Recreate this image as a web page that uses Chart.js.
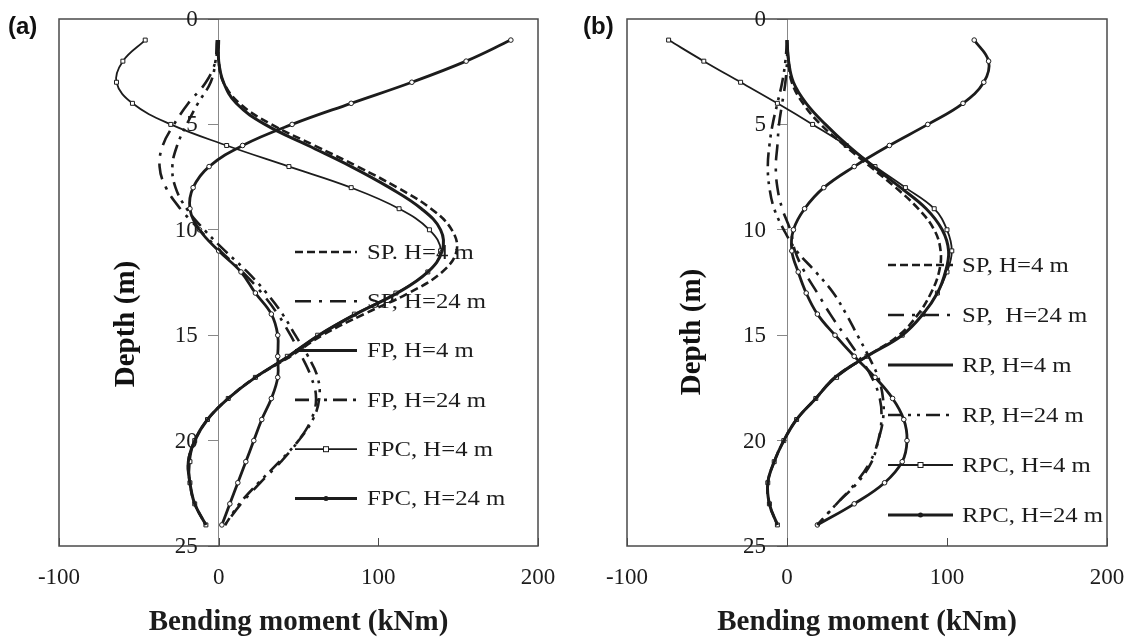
<!DOCTYPE html>
<html>
<head>
<meta charset="utf-8">
<script src="https://cdn.jsdelivr.net/npm/chart.js@4.4.1/dist/chart.umd.min.js"></script>
<style>
  html, body { margin:0; padding:0; background:#fff; }
  #wrap { position:relative; width:1126px; height:640px; overflow:hidden; }
  .panel { position:absolute; top:0; width:563px; height:640px; }
</style>
</head>
<body>
<div id="wrap">
  <div class="panel" style="left:0"><canvas id="chartA" width="563" height="640"></canvas></div>
  <div class="panel" style="left:563px"><canvas id="chartB" width="563" height="640"></canvas></div>
</div>
<script>
// depth of each reading (m) and axis ticks
const depth = [1,2,3,4,5,6,7,8,9,10,11,12,13,14,15,16,17,18,19,20,21,22,23,24];
const momentTicks = [-100, 0, 100, 200];
const depthTicks = [0, 5, 10, 15, 20, 25];

// (a) bending moment, kNm
const namesA = ['SP. H=4 m', 'SP, H=24 m', 'FP, H=4 m', 'FP, H=24 m', 'FPC, H=4 m', 'FPC, H=24 m'];
const spH4A   = [0, 0, 3, 13, 33, 60, 87, 112, 133, 146, 149, 140, 119, 91, 65, 45, 23, 6, -7, -15, -19, -18, -15, -8];
const spH24A  = [-1, -2, -8, -19, -28, -35, -37, -33, -24, -12, 1, 15, 27, 37, 45, 52, 58, 61, 58, 50, 39, 26, 14, 4];
const fpH4A   = [0, 0, 3, 11, 29, 56, 83, 107, 127, 139, 140, 131, 112, 86, 63, 44, 23, 6, -7, -15, -19, -18, -15, -8];
const fpH24A  = [-1, -2, -5, -13, -20, -26, -29, -27, -20, -9, 4, 18, 30, 40, 48, 56, 62, 63, 59, 50, 38, 25, 13, 4];
const fpcH4A  = [-46, -60, -64, -54, -30, 5, 44, 83, 113, 132, 139, 131, 111, 85, 62, 43, 23, 6, -7, -15, -18, -18, -15, -8];
const fpcH24A = [183, 155, 121, 83, 46, 15, -6, -16, -18, -12, 0, 14, 23, 33, 37, 37, 37, 33, 27, 22, 17, 12, 7, 2];

// (b) bending moment, kNm
const namesB = ['SP, H=4 m', 'SP,  H=24 m', 'RP, H=4 m', 'RP, H=24 m', 'RPC, H=4 m', 'RPC, H=24 m'];
const spH4B   = [0, 1, 3, 10, 21, 36, 52, 68, 82, 92, 96, 95, 90, 82, 70, 50, 30, 18, 6, -2, -8, -12, -11, -6];
const spH24B  = [0, 0, -1, -3, -5, -6, -7, -6, -3, 2, 5, 11, 19, 27, 36, 45, 53, 58, 59, 57, 52, 43, 31, 19];
const rpH4B   = [0, 1, 4, 12, 24, 38, 54, 71, 87, 97, 101, 99, 94, 85, 72, 50, 30, 18, 6, -2, -8, -12, -11, -6];
const rpH24B  = [0, -1, -3, -6, -9, -11, -12, -11, -8, -2, 6, 18, 29, 37, 44, 51, 57, 60, 60, 57, 53, 44, 31, 19];
const rpcH4B  = [-74, -52, -29, -6, 16, 37, 55, 74, 92, 100, 103, 100, 94, 85, 72, 50, 31, 18, 6, -2, -8, -12, -11, -6];
const rpcH24B = [117, 126, 123, 110, 88, 64, 42, 23, 11, 4, 3, 7, 12, 19, 30, 42, 55, 66, 73, 75, 72, 61, 42, 19];

const INK = '#1c1c1c';
const SERIF = '"Liberation Serif", "Times New Roman", serif';

// one style per series slot, same order in both panels
const lineStyles = [
  { borderDash:[8,4], borderWidth:2.6, pointRadius:0 },
  { borderDash:[16,8,3,8], borderWidth:2.6, pointRadius:0 },
  { borderDash:[], borderWidth:3, pointRadius:0 },
  { borderDash:[14,6,3,6,3,6], borderWidth:2.6, pointRadius:0 },
  { borderDash:[], borderWidth:1.8, pointRadius:2.8, pointStyle:'rect' },
  { borderDash:[], borderWidth:2.8, pointRadius:2.3, pointStyle:'circle' }
];

const zeroPad = s => { s.paddingTop = 0; s.paddingBottom = 0; s.paddingLeft = 0; s.paddingRight = 0; };

const paperPlugin = {
  id: 'paper',
  beforeDatasetsDraw(chart, args, o) {
    const { ctx, chartArea: a, scales } = chart;
    ctx.save();
    ctx.strokeStyle = '#4a4a4a';
    ctx.lineWidth = 1.5;
    ctx.strokeRect(a.left, a.top, a.right - a.left, a.bottom - a.top);
    // short inward ticks on the moment axis
    ctx.lineWidth = 1;
    momentTicks.forEach(v => {
      const px = Math.round(scales.x.getPixelForValue(v)) + 0.5;
      ctx.beginPath(); ctx.moveTo(px, a.bottom); ctx.lineTo(px, a.bottom - 8); ctx.stroke();
    });
    ctx.restore();
  },
  afterDraw(chart, args, o) {
    const { ctx, chartArea: a, scales } = chart;
    ctx.save();
    // depth tick labels, left of the zero-moment axis
    const x0px = scales.x.getPixelForValue(0);
    ctx.fillStyle = INK;
    ctx.font = '23px ' + SERIF;
    ctx.textAlign = 'right'; ctx.textBaseline = 'middle';
    depthTicks.forEach(v => ctx.fillText(String(v), x0px - 21, scales.y.getPixelForValue(v) + 1));

    // panel tag
    ctx.fillStyle = '#111';
    ctx.font = 'bold 24px "Liberation Sans", Arial, sans-serif';
    ctx.textAlign = 'left';
    ctx.fillText(o.tag, o.tagX, 27);

    // depth title, sits inside the frame
    ctx.save();
    ctx.translate(a.left + o.titleDx, o.titleY);
    ctx.rotate(-Math.PI / 2);
    ctx.font = 'bold 29px ' + SERIF;
    ctx.textAlign = 'center';
    ctx.fillText('Depth (m)', 0, 0);
    ctx.restore();

    // legend
    chart.data.datasets.forEach((ds, i) => {
      const y = a.top + o.legendY + i * o.legendGap;
      const x0 = a.left + o.legendX, x1 = x0 + o.lineLen;
      ctx.strokeStyle = INK;
      ctx.lineWidth = ds.borderWidth;
      ctx.setLineDash(ds.borderDash || []);
      ctx.beginPath(); ctx.moveTo(x0, y); ctx.lineTo(x1, y); ctx.stroke();
      ctx.setLineDash([]);
      const mx = (x0 + x1) / 2;
      if (ds.pointStyle === 'rect') {
        ctx.fillStyle = '#fff'; ctx.lineWidth = 1;
        ctx.fillRect(mx - 2.5, y - 2.5, 5, 5); ctx.strokeRect(mx - 2.5, y - 2.5, 5, 5);
      } else if (ds.pointStyle === 'circle') {
        ctx.fillStyle = INK;
        ctx.beginPath(); ctx.arc(mx, y, 2.5, 0, Math.PI * 2); ctx.fill();
      }
      // legend type in the source is a little wide for its height
      ctx.save();
      ctx.translate(x1 + o.textGap, y + 1);
      ctx.scale(1.15, 1);
      ctx.fillStyle = INK;
      ctx.font = '21.5px ' + SERIF;
      ctx.textAlign = 'left'; ctx.textBaseline = 'middle';
      ctx.fillText(ds.label, 0, 0);
      ctx.restore();
    });
    ctx.restore();
  }
};

function makeSets(names, series) {
  return series.map((vals, i) => Object.assign({
    label: names[i],
    data: vals.map((v, k) => ({ x: v, y: depth[k] })),
    showLine: true,
    borderColor: INK,
    pointBorderColor: INK,
    pointBackgroundColor: '#fff',
    pointBorderWidth: 1,
    tension: 0.4
  }, lineStyles[i]));
}

function makeChart(id, names, series, pad, paper) {
  return new Chart(document.getElementById(id), {
    type: 'scatter',
    data: { datasets: makeSets(names, series) },
    options: {
      animation: false, responsive: false, devicePixelRatio: 1,
      layout: { padding: pad },
      plugins: { legend: { display: false }, tooltip: { enabled: false }, paper },
      scales: {
        x: {
          type: 'linear', position: 'bottom', min: -100, max: 200,
          afterBuildTicks: s => { s.ticks = momentTicks.map(v => ({ value: v })); },
          afterFit: s => { s.height = 94; zeroPad(s); },
          ticks: { color: INK, font: { family: SERIF, size: 23 }, padding: 18, maxRotation: 0 },
          grid: { display: false, drawTicks: false },
          border: { display: false },
          title: { display: true, text: 'Bending moment (kNm)', color: INK,
                   font: { family: SERIF, size: 29, weight: 'bold' }, padding: 0 }
        },
        y: {
          type: 'linear', position: { x: 0 }, reverse: true, min: 0, max: 25,
          afterBuildTicks: s => { s.ticks = depthTicks.map(v => ({ value: v })); },
          afterFit: zeroPad,
          ticks: { display: false },
          grid: { display: true, drawOnChartArea: false, drawTicks: true, tickLength: 10, color: '#888' },
          border: { display: true, color: '#888', width: 1 }
        }
      }
    },
    plugins: [paperPlugin]
  });
}

makeChart('chartA', namesA, [spH4A, spH24A, fpH4A, fpH24A, fpcH4A, fpcH24A],
  { left: 59, right: 25, top: 19, bottom: 0 },
  { tag: '(a)', tagX: 8, titleDx: 68, titleY: 324, legendX: 236, legendY: 233, legendGap: 49.3, lineLen: 62, textGap: 10 });

makeChart('chartB', namesB, [spH4B, spH24B, rpH4B, rpH24B, rpcH4B, rpcH24B],
  { left: 64, right: 19, top: 19, bottom: 0 },
  { tag: '(b)', tagX: 20, titleDx: 66, titleY: 332, legendX: 261, legendY: 246, legendGap: 50, lineLen: 65, textGap: 9 });
</script>
</body>
</html>
